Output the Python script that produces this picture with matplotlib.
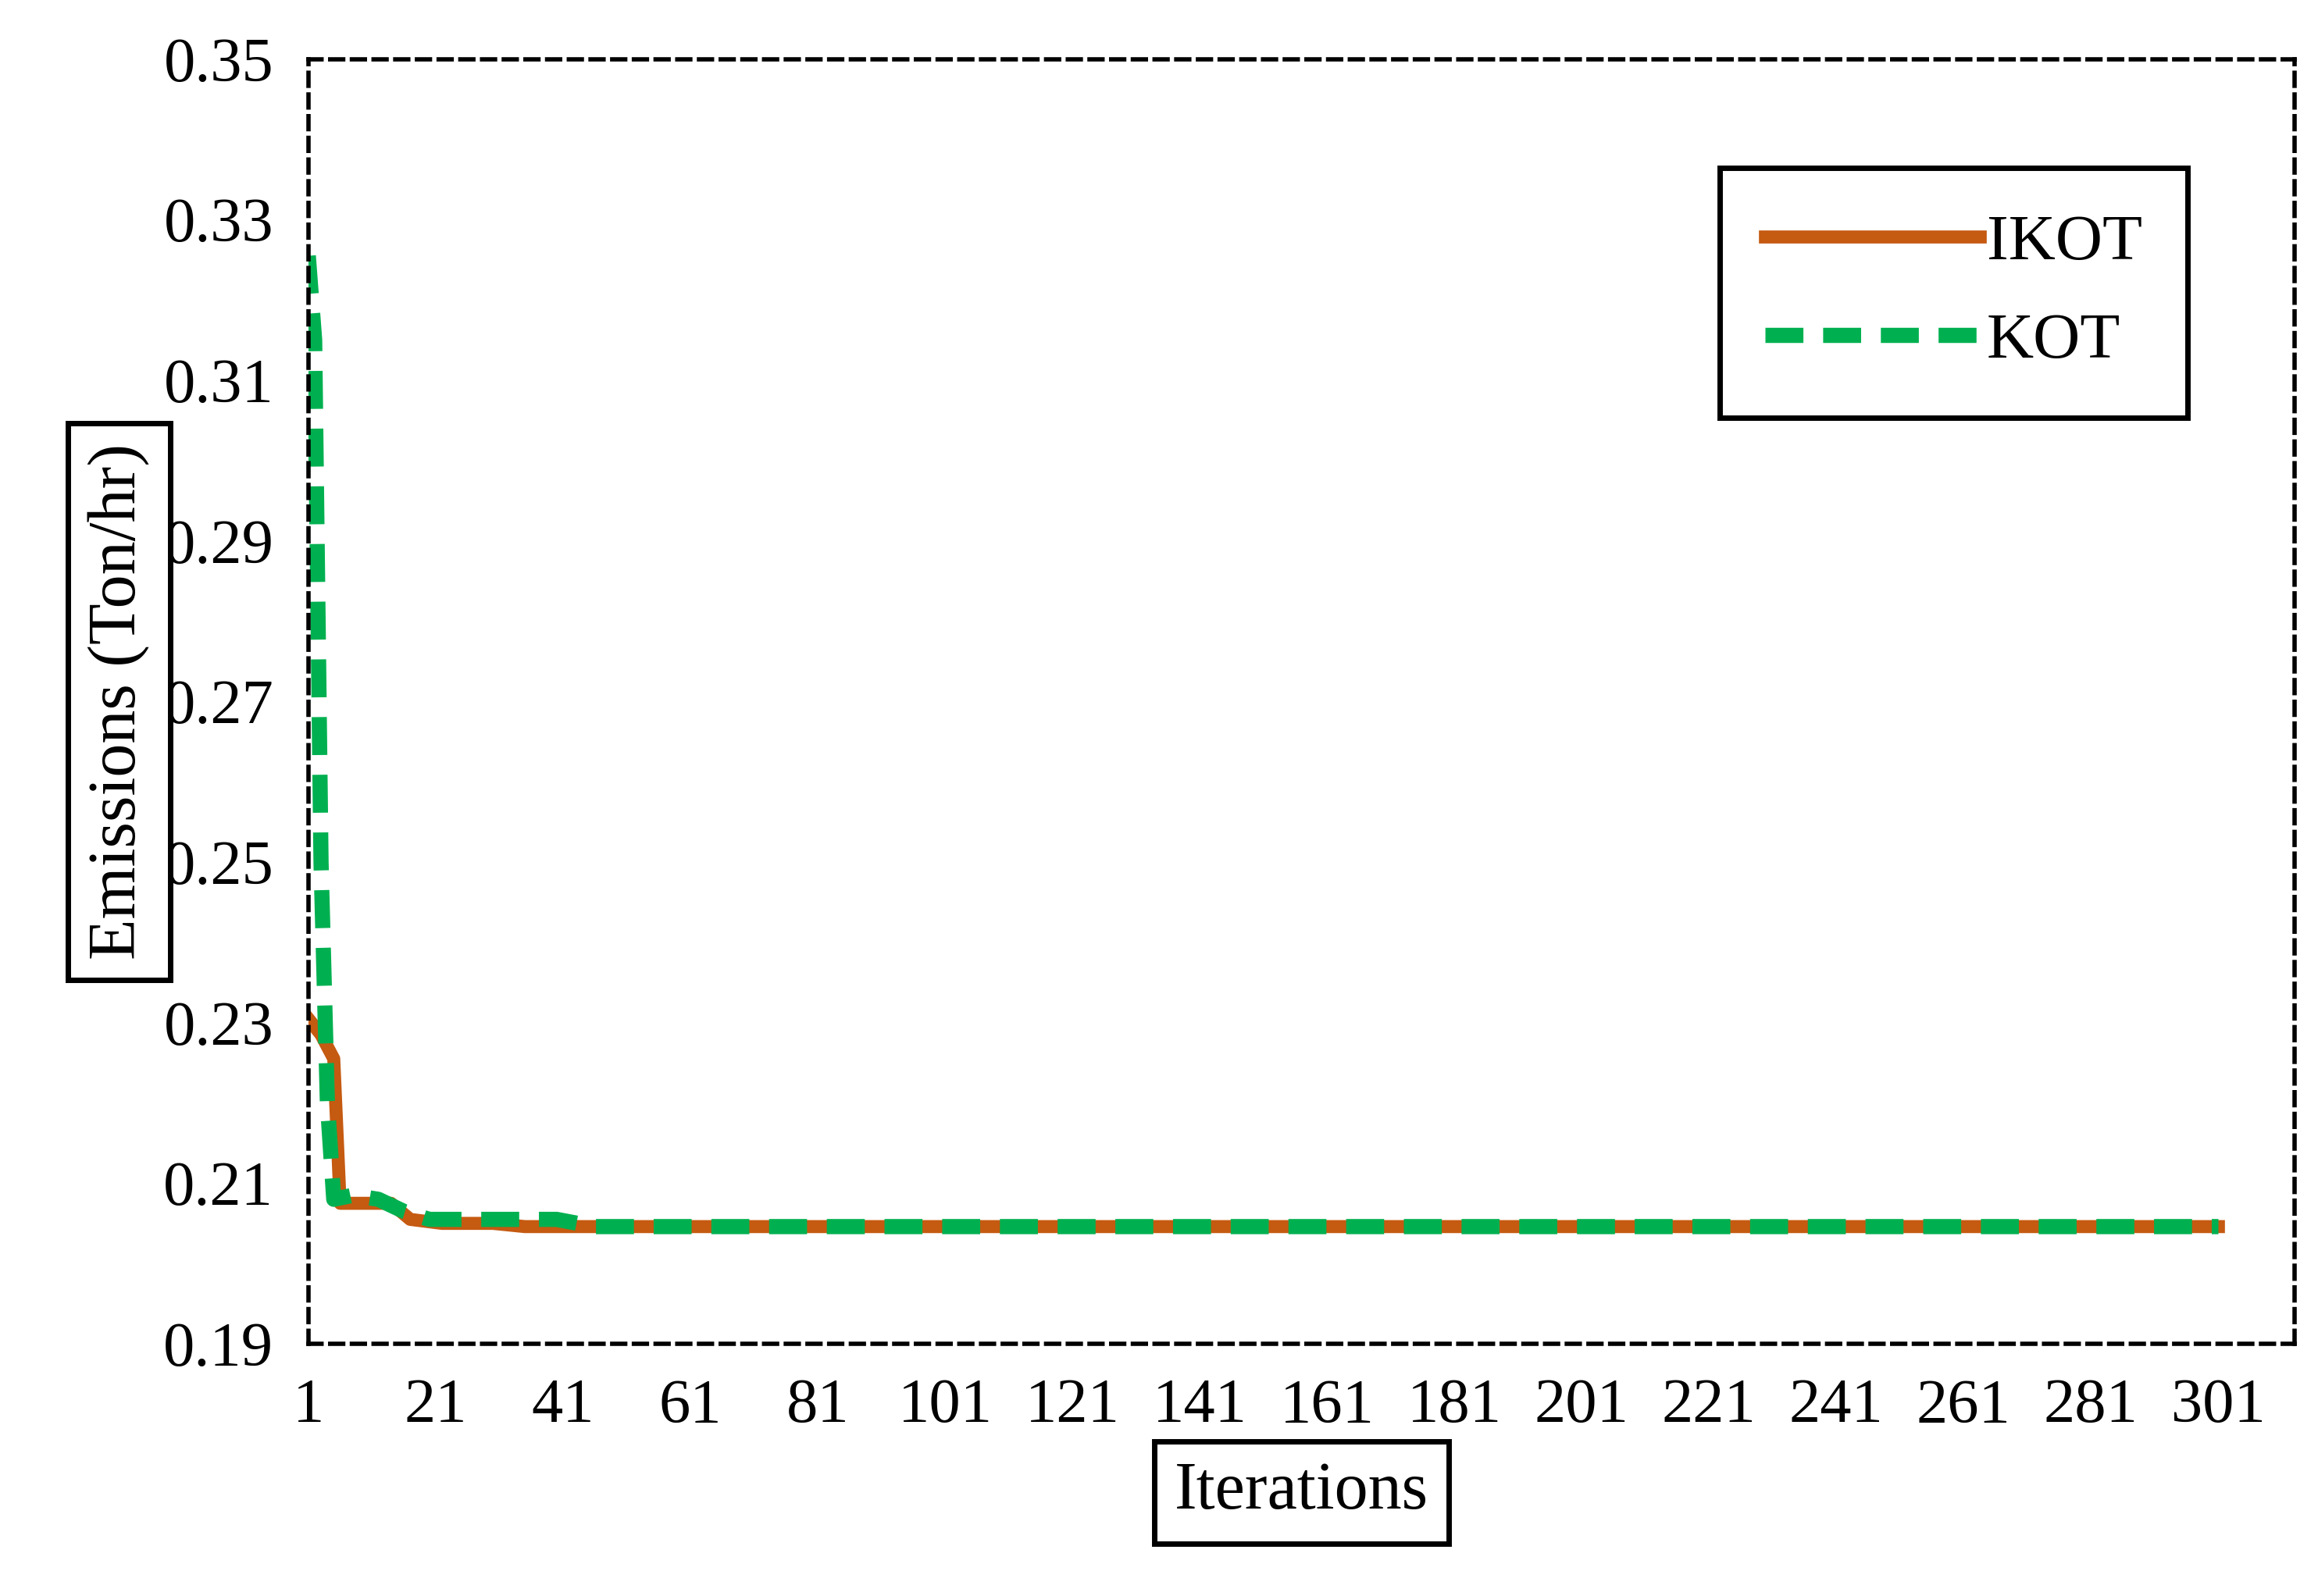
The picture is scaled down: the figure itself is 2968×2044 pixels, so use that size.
import matplotlib.pyplot as plt

plt.rcParams['font.family'] = ['Liberation Serif', 'DejaVu Serif']

# values
ikot_iter = [1, 3, 5, 6, 14, 17, 22, 30, 35, 301]
ikot_val = [0.2305, 0.2285, 0.2255, 0.2075, 0.2075, 0.2055, 0.2050, 0.2050, 0.2046, 0.2046]
kot_iter = [1, 2, 3, 4, 5, 8, 12, 16, 20, 40, 46, 301]
kot_val = [0.3255, 0.3150, 0.2500, 0.2200, 0.2080, 0.2085, 0.2080, 0.2065, 0.2055, 0.2055, 0.2046, 0.2046]
xticks = list(range(1, 302, 20))
yticks = [0.19, 0.21, 0.23, 0.25, 0.27, 0.29, 0.31, 0.33, 0.35]

fig = plt.figure(figsize=(14.84, 10.22), dpi=200)
ax = fig.add_axes([0.133, 0.158, 0.857, 0.805])

ax.plot(ikot_iter, ikot_val, color='#C55A11', lw=6, label='IKOT')
ax.plot(kot_iter, kot_val, color='#00B050', lw=7, ls=(0, (2.5, 1.3)), label='KOT')

ax.set_xlim(1, 313)
ax.set_ylim(0.19, 0.35)
ax.set_xticks(xticks)
ax.set_yticks(yticks)
ax.set_yticklabels([f'{v:.2f}' for v in yticks])
ax.tick_params(length=0, labelsize=29, pad=16)
for s in ax.spines.values():
    s.set_linestyle((0, (3, 2)))
    s.set_linewidth(2)

ax.set_xlabel('Iterations', fontsize=31, labelpad=12,
              bbox=dict(boxstyle='square,pad=0.3', fc='white', ec='black', lw=2.5))
ax.set_ylabel('Emissions (Ton/hr)', fontsize=31, labelpad=6,
              bbox=dict(boxstyle='square,pad=0.3', fc='white', ec='black', lw=2.5))

leg = ax.legend(loc='upper right', bbox_to_anchor=(0.946, 0.915), fontsize=30,
                fancybox=False, edgecolor='black', framealpha=1, handlelength=3.3,
                handletextpad=0.1, borderpad=0.7, labelspacing=0.6, borderaxespad=0)
leg.get_frame().set_linewidth(2.5)
for t in leg.get_texts():
    t.set_ha('left')
leg._legend_box.align = 'left'
leg.get_frame().set_width(1)

fig.canvas.draw()
# widen the legend frame like the reference box
bb = leg.get_window_extent()
leg.set_bbox_to_anchor((0.946, 0.915), transform=ax.transAxes)
leg.get_frame().set_boxstyle('square', pad=0)
for h in leg.legend_handles:
    pass
leg._legend_box.set_offset
leg.set_loc = None

fig.savefig('out.png', dpi=200)
